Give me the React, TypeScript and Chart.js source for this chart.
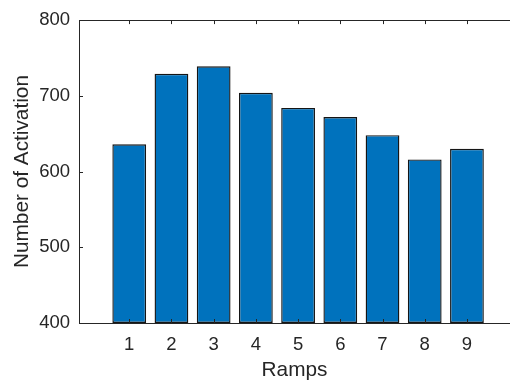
import React, { useEffect, useRef } from "react";
import { Chart, registerables } from "chart.js";

Chart.register(...registerables);

const ramps = [1, 2, 3, 4, 5, 6, 7, 8, 9];
const activations = [636, 729, 739, 704, 684, 672, 648, 616, 630];
const yTicks = [400, 500, 600, 700, 800];
const xTicks = [1, 2, 3, 4, 5, 6, 7, 8, 9];

const FONT = "'Liberation Sans', Arial, Helvetica, sans-serif";
const AXIS_COLOR = "#262626";

const innerTicks = {
  id: "innerTicks",
  afterDraw(chart: any) {
    const { ctx, chartArea, scales } = chart;
    const x = scales.x;
    const y = scales.y;
    ctx.save();
    ctx.strokeStyle = AXIS_COLOR;
    ctx.lineWidth = 1;
    ctx.beginPath();
    ctx.moveTo(chartArea.left, Math.round(chartArea.top) + 0.5);
    ctx.lineTo(chartArea.right, Math.round(chartArea.top) + 0.5);
    for (const v of xTicks) {
      const px = Math.round(x.getPixelForValue(v)) + 0.5;
      ctx.moveTo(px, chartArea.bottom);
      ctx.lineTo(px, chartArea.bottom - 4);
      ctx.moveTo(px, chartArea.top);
      ctx.lineTo(px, chartArea.top + 4);
    }
    for (const v of yTicks) {
      const py = Math.round(y.getPixelForValue(v)) + 0.5;
      ctx.moveTo(chartArea.left, py);
      ctx.lineTo(chartArea.left + 4, py);
    }
    ctx.stroke();
    ctx.restore();
  },
};

export default function App() {
  const ref = useRef<HTMLCanvasElement | null>(null);
  useEffect(() => {
    if (!ref.current) return;
    const chart = new Chart(ref.current, {
      type: "bar",
      data: {
        datasets: [
          {
            data: ramps.map((r, i) => ({ x: r, y: activations[i] })),
            backgroundColor: "#0072BD",
            borderColor: "#151515",
            borderWidth: 1.4,
            borderSkipped: false,
            base: 400,
            barPercentage: 0.8,
            categoryPercentage: 1,
          } as any,
        ],
      },
      options: {
        responsive: false,
        animation: false,
        layout: { padding: { top: 15, right: 0, bottom: 0, left: 0 } },
        plugins: { legend: { display: false }, tooltip: { enabled: false } },
        scales: {
          x: {
            type: "linear",
            offset: false,
            min: -0.19,
            max: 10.02,
            afterBuildTicks: (s: any) => {
              s.ticks = xTicks.map((v) => ({ value: v }));
            },
            afterFit: (s: any) => {
              s.height = 60;
            },
            grid: { display: false, drawTicks: false },
            border: { display: true, color: AXIS_COLOR, width: 1 },
            ticks: {
              padding: 11,
              color: AXIS_COLOR,
              font: { family: FONT, size: 18.5 },
              maxRotation: 0,
              autoSkip: false,
            },
            title: {
              display: true,
              text: "Ramps",
              color: AXIS_COLOR,
              font: { family: FONT, size: 20.8 },
              padding: { top: 0, bottom: 0 },
            },
          },
          y: {
            min: 400,
            max: 800,
            afterBuildTicks: (s: any) => {
              s.ticks = yTicks.map((v) => ({ value: v }));
            },
            afterFit: (s: any) => {
              s.width = 79;
            },
            grid: { display: false, drawTicks: false },
            border: { display: true, color: AXIS_COLOR, width: 1 },
            ticks: {
              padding: 9,
              color: AXIS_COLOR,
              font: { family: FONT, size: 18.5 },
            },
            title: {
              display: true,
              text: "Number of Activation",
              color: AXIS_COLOR,
              font: { family: FONT, size: 20.8 },
              padding: { top: 10, bottom: 0 },
            },
          },
        },
      },
      plugins: [innerTicks],
    });
    return () => chart.destroy();
  }, []);
  return (
    <div style={{ position: "fixed", left: 0, top: 0, width: 510, height: 383, background: "#fff" }}>
      <canvas ref={ref} width={510} height={383} style={{ display: "block" }} />
    </div>
  );
}
